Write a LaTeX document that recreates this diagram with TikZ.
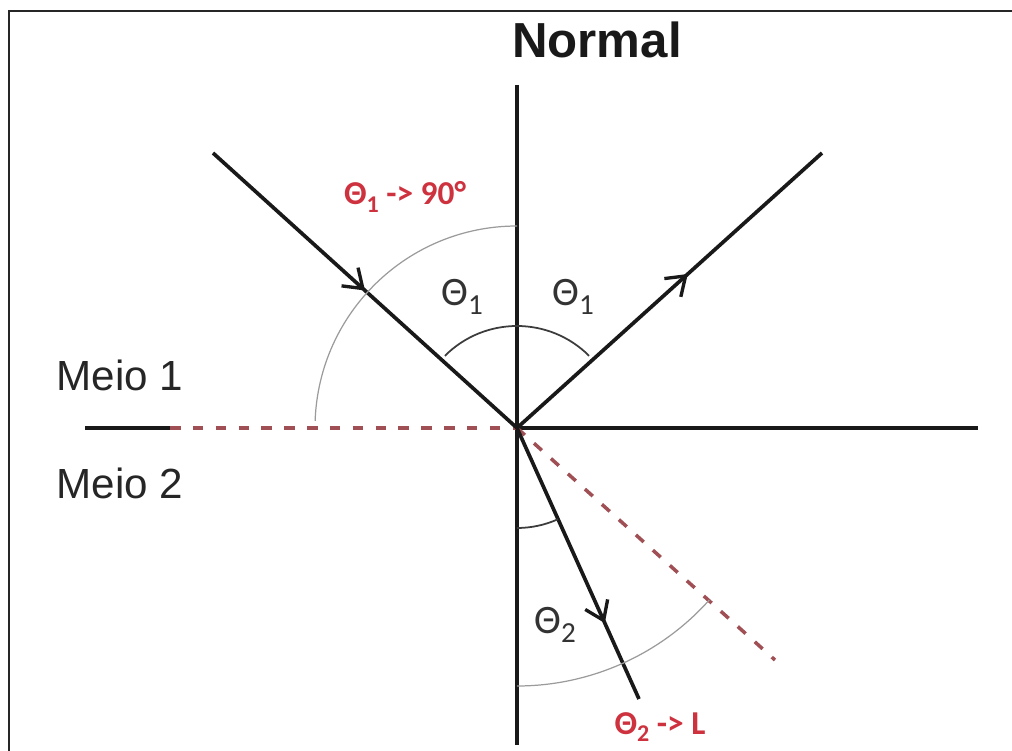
\documentclass[tikz,border=0pt]{standalone}
\usepackage{fontspec}
\setmainfont{Liberation Sans}
\newfontfamily\calib{Carlito}
\usetikzlibrary{arrows.meta,decorations.markings}
\definecolor{raydark}{RGB}{25,25,25}
\definecolor{dashred}{RGB}{160,80,85}
\definecolor{labred}{RGB}{205,50,62}
\definecolor{thingray}{RGB}{155,155,155}
\newcommand{\lowidx}[1]{\raisebox{-0.45ex}{\scalebox{0.72}{#1}}}
\tikzset{
  ray/.style={line width=2.1pt, draw=raydark, postaction={decorate},
    decoration={markings, mark=at position #1 with {\arrow[line width=1.9pt]{Straight Barb[length=10pt,width=14pt]}}}},
  axis/.style={line width=1.8pt, draw=raydark},
  reddash/.style={line width=2pt, draw=dashred, dash pattern=on 6pt off 7pt},
  anglearc/.style={line width=1pt, draw=raydark!85},
  farc/.style={line width=0.7pt, draw=thingray},
  medium/.style={font=\fontsize{24}{28}\selectfont, text=black!85},
  thlabel/.style={font=\calib\fontsize{23}{27}\selectfont, text=black!80},
  redlabel/.style={font=\calib\bfseries\fontsize{19}{23}\selectfont, text=labred}
}
\begin{document}
\begin{tikzpicture}[x=0.02cm,y=0.02cm]
\useasboundingbox (0,0) rectangle (1012,751);
% frame
\draw[line width=1.6pt, draw=black!85] (9,0) -- (9,740) -- (1012,740);

% points
\coordinate (O) at (517,323);
\coordinate (ntop) at (517,666);
\coordinate (nbot) at (517,6);
\coordinate (lend) at (85,323);
\coordinate (dstart) at (170,323);
\coordinate (rend) at (978,323);
\coordinate (inc) at (213,598);
\coordinate (refl) at (822,598);
\coordinate (refr) at (639,52);
\coordinate (crit) at (775,91);

% normal and interface
\draw[axis] (ntop) -- (nbot);
\draw[axis] (lend) -- (dstart);
\draw[reddash] (dstart) -- (O);
\draw[axis] (O) -- (rend);
\draw[reddash] (O) -- (crit);

% rays
\draw[ray=0.5] (inc) -- (O);
\draw[ray=0.56] (O) -- (refl);
\draw[ray=0.72] (O) -- (refr);

% angles
\draw[anglearc] (O) ++(135:102) arc[start angle=135, end angle=45, radius=102];
\draw[anglearc] (O) ++(-90:100) arc[start angle=-90, end angle=-65.8, radius=100];
\draw[farc] (O) ++(90:202) arc[start angle=90, end angle=178, radius=202];
\draw[farc] (O) ++(-90:258) arc[start angle=-90, end angle=-41.8, radius=258];

% labels
\node[font=\bfseries\fontsize{28}{32}\selectfont, text=black!90] (normal) at (597,711) {Normal};
\node[medium] (meio1) at (120,376) {Meio 1};
\node[medium] (meio2) at (120,268) {Meio 2};
\node[thlabel] (th1a) at (462,454) {Θ\lowidx{1}};
\node[thlabel] (th1b) at (573,454) {Θ\lowidx{1}};
\node[thlabel] (th2) at (555,126) {Θ\lowidx{2}};
\node[redlabel] (crit1) at (405,554) {Θ\lowidx{1} -> 90°};
\node[redlabel] (crit2) at (660,24) {Θ\lowidx{2} -> L};
\end{tikzpicture}
\end{document}
